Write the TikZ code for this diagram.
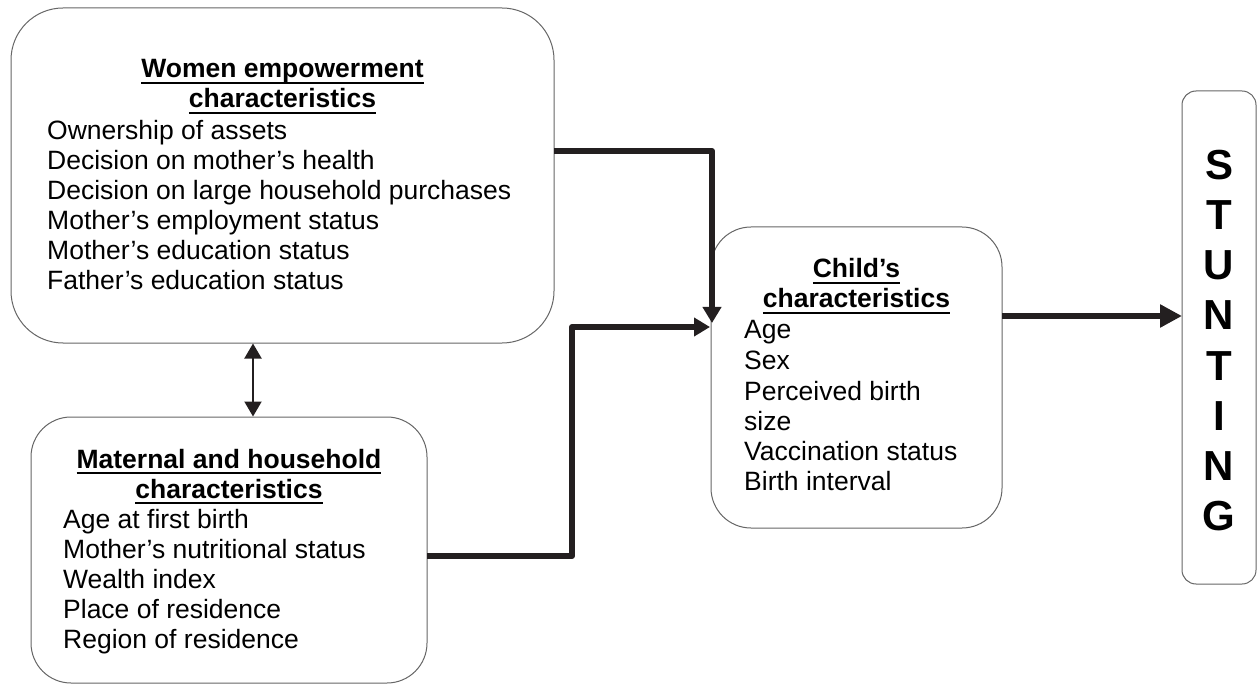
\documentclass[tikz,border=0pt]{standalone}
\usepackage{fontspec}
\setmainfont{Liberation Sans}
\usetikzlibrary{arrows.meta}
\definecolor{ink}{HTML}{231F20}
\definecolor{edge}{HTML}{666666}
\newsavebox{\ulsave}
\newcommand{\ulbox}[1]{\sbox{\ulsave}{#1}\rlap{\rule[-6.2pt]{\wd\ulsave}{2.6pt}}\usebox{\ulsave}}
\tikzset{
  box/.style={draw=edge, line width=1pt, fill=white, inner sep=0pt},
  txt/.style={anchor=base west, inner sep=0pt, font=\fontsize{26.5}{30}\selectfont},
  ttl/.style={anchor=base, inner sep=0pt, font=\fontsize{26.5}{30}\selectfont\bfseries},
  letter/.style={anchor=base, inner sep=0pt, font=\fontsize{42}{50}\selectfont\bfseries},
  flow/.style={draw=ink, line width=6pt, line join=round, -{Triangle[length=16pt,width=18pt]}},
  bigflow/.style={draw=ink, line width=6.5pt, -{Triangle[length=22pt,width=22pt]}},
  link/.style={draw=ink, line width=2pt, {Triangle[length=15pt,width=17pt]}-{Triangle[length=15pt,width=17pt]}}
}
\begin{document}
\begin{tikzpicture}[x=1pt,y=-1pt]
\useasboundingbox (0,0) rectangle (1257,684);
% boxes
\node[box, rounded corners=52pt, minimum width=543pt, minimum height=335pt] (women) at (282.5,175.5) {};
\node[box, rounded corners=40pt, minimum width=396pt, minimum height=266pt] (maternal) at (229,550) {};
\node[box, rounded corners=40pt, minimum width=291pt, minimum height=301pt] (child) at (856.5,377.5) {};
\node[box, rounded corners=14pt, minimum width=74pt, minimum height=493pt] (stunting) at (1219,337.5) {};
% women texts
\node[ttl] (w0) at (282.5,78) {\ulbox{Women empowerment}};
\node[ttl] (w1) at (282.5,108) {\ulbox{characteristics}};
\node[txt] (w2) at (47,140) {Ownership of assets};
\node[txt] (w3) at (47,170) {Decision on mother’s health};
\node[txt] (w4) at (47,200) {Decision on large household purchases};
\node[txt] (w5) at (47,230) {Mother’s employment status};
\node[txt] (w6) at (47,260) {Mother’s education status};
\node[txt] (w7) at (47,290) {Father’s education status};
% maternal texts
\node[ttl] (m0) at (229,468) {\ulbox{Maternal and household}};
\node[ttl] (m1) at (229,498) {\ulbox{characteristics}};
\node[txt] (m2) at (63,528) {Age at first birth};
\node[txt] (m3) at (63,558) {Mother’s nutritional status};
\node[txt] (m4) at (63,588) {Wealth index};
\node[txt] (m5) at (63,618) {Place of residence};
\node[txt] (m6) at (63,648) {Region of residence};
% child texts
\node[ttl] (c0) at (856.5,278) {\ulbox{Child’s}};
\node[ttl] (c1) at (856.5,308) {\ulbox{characteristics}};
\node[txt] (c2) at (744,338) {Age};
\node[txt] (c3) at (744,369) {Sex};
\node[txt] (c4) at (744,400) {Perceived birth};
\node[txt] (c5) at (744,430) {size};
\node[txt] (c6) at (744,460) {Vaccination status};
\node[txt] (c7) at (744,490) {Birth interval};
% stunting letters
\node[letter] (s1) at (1219,180) {S};
\node[letter] (s2) at (1219,230) {T};
\node[letter] (s3) at (1219,280) {U};
\node[letter] (s4) at (1219,330) {N};
\node[letter] (s5) at (1219,380) {T};
\node[letter] (s6) at (1219,430) {I};
\node[letter] (s7) at (1219,480) {N};
\node[letter] (s8) at (1219,530) {G};
% connector coordinates
\coordinate (aStart) at (554,151);
\coordinate (aTip) at (712,323);
\coordinate (bStart) at (427,556);
\coordinate (bTurn) at (572,556);
\coordinate (bTip) at (710,327);
\coordinate (cStart) at (1002,316);
\coordinate (cTip) at (1182,316);
\coordinate (dTop) at (253,343.5);
\coordinate (dBot) at (253,416.5);
% connectors
\draw[flow] (aStart) -| (aTip);
\draw[flow] (bStart) -- (bTurn) |- (bTip);
\draw[bigflow] (cStart) -- (cTip);
\draw[link] (dTop) -- (dBot);
\end{tikzpicture}
\end{document}
